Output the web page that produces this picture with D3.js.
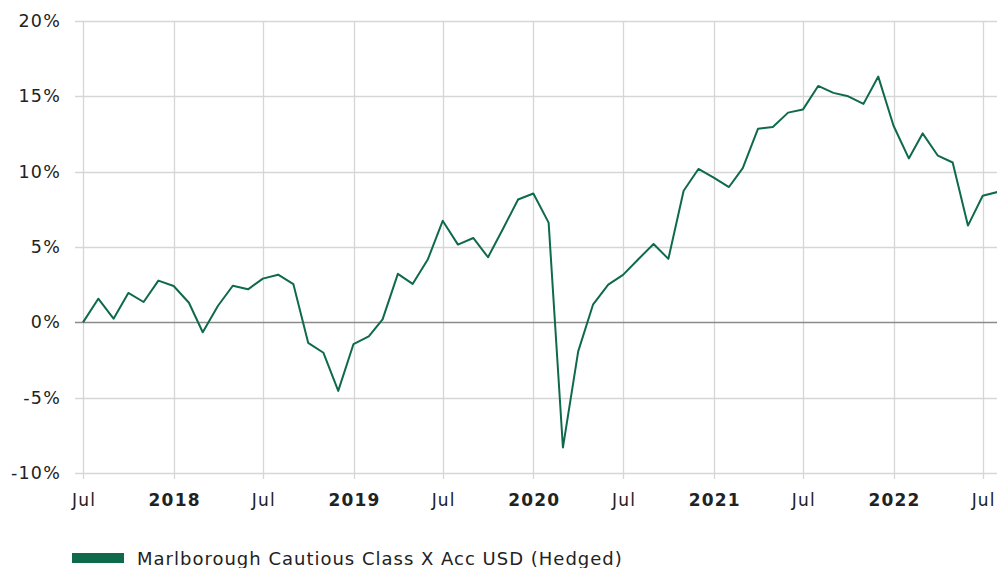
<!DOCTYPE html>
<html>
<head>
<meta charset="utf-8">
<script src="https://cdn.jsdelivr.net/npm/d3@7"></script>
<style>
  body { margin: 0; background: #fff; }
  svg { display: block; font-family: "DejaVu Sans", Verdana, sans-serif; }
</style>
</head>
<body>
<script>
// monthly returns, Jul 2017 .. Aug 2022 (%)
var startMonth = "2017-07";
var values = [
  0, 1.57, 0.24, 1.95, 1.35, 2.77,
  2.41, 1.30, -0.66, 1.10, 2.43, 2.19, 2.90, 3.16, 2.53, -1.36, -2.02, -4.55,
  -1.44, -0.93, 0.20, 3.22, 2.55, 4.19, 6.74, 5.16, 5.60, 4.32, 6.25, 8.15,
  8.55, 6.62, -8.31, -1.93, 1.17, 2.50, 3.15, 4.19, 5.20, 4.21, 8.73, 10.18,
  9.60, 8.98, 10.24, 12.85, 12.97, 13.92, 14.12, 15.69, 15.23, 15.00, 14.50, 16.31,
  13.05, 10.88, 12.54, 11.06, 10.61, 6.42, 8.40, 8.66
];
var yTicks = [-10, -5, 0, 5, 10, 15, 20];
var seriesName = "Marlborough Cautious Class X Acc USD (Hedged)";

var width = 997, height = 568;
var mLeft = 83, mRight = 998, mTop = 21, mBottom = 473;
var lineColor = "#0f6a4c";

var parse = d3.timeParse("%Y-%m");
var t0 = parse(startMonth);
var data = values.map(function (v, i) {
  return { date: d3.timeMonth.offset(t0, i), value: v };
});

var x = d3.scaleTime()
  .domain([t0, d3.timeMonth.offset(t0, values.length - 1)])
  .range([mLeft, mRight]);
var y = d3.scaleLinear().domain([-10, 20]).range([mBottom, mTop]);

var svg = d3.select("body").append("svg")
  .attr("width", width).attr("height", height);

// x ticks: every 6 months (Jan and Jul)
var xTicks = d3.timeMonth.range(t0, d3.timeMonth.offset(t0, values.length), 6);

// vertical grid
svg.append("g").selectAll("line").data(xTicks).join("line")
  .attr("x1", function (d) { return Math.round(x(d)) + 0.5; })
  .attr("x2", function (d) { return Math.round(x(d)) + 0.5; })
  .attr("y1", mTop).attr("y2", mBottom + 6)
  .attr("stroke", "#d6d6d6").attr("stroke-width", 1.3);

// horizontal grid
svg.append("g").selectAll("line").data(yTicks).join("line")
  .attr("x1", mLeft - 8).attr("x2", width)
  .attr("y1", function (d) { return Math.round(y(d)) + 0.5; })
  .attr("y2", function (d) { return Math.round(y(d)) + 0.5; })
  .attr("stroke", function (d) { return d === 0 ? "#8a8a8a" : "#d6d6d6"; })
  .attr("stroke-width", function (d) { return d === 0 ? 1.5 : 1.3; });

// y labels
svg.append("g").selectAll("text").data(yTicks).join("text")
  .attr("x", 61)
  .attr("y", function (d) { return y(d) + 6; })
  .attr("text-anchor", "end")
  .attr("font-size", 17.5)
  .attr("letter-spacing", 1.2)
  .attr("fill", "#222")
  .text(function (d) { return d + "%"; });

// x labels
svg.append("g").selectAll("text").data(xTicks).join("text")
  .attr("x", function (d) { return x(d) + 1; })
  .attr("y", 506)
  .attr("text-anchor", "middle")
  .attr("font-size", 17)
  .attr("letter-spacing", 1.2)
  .attr("font-weight", function (d) { return d.getMonth() === 0 ? "bold" : "normal"; })
  .attr("fill", "#222")
  .text(function (d) { return d.getMonth() === 0 ? d3.timeFormat("%Y")(d) : "Jul"; });

// line
svg.append("path").datum(data)
  .attr("fill", "none")
  .attr("stroke", lineColor)
  .attr("stroke-width", 2)
  .attr("stroke-linejoin", "round")
  .attr("d", d3.line()
    .x(function (d) { return x(d.date); })
    .y(function (d) { return y(d.value); }));

// legend
var legend = svg.append("g");
legend.append("rect")
  .attr("x", 72).attr("y", 553).attr("width", 52).attr("height", 10)
  .attr("fill", lineColor);
legend.append("text")
  .attr("x", 137).attr("y", 565)
  .attr("font-size", 18)
  .attr("letter-spacing", 1.0)
  .attr("fill", "#222")
  .text(seriesName);
</script>
</body>
</html>
